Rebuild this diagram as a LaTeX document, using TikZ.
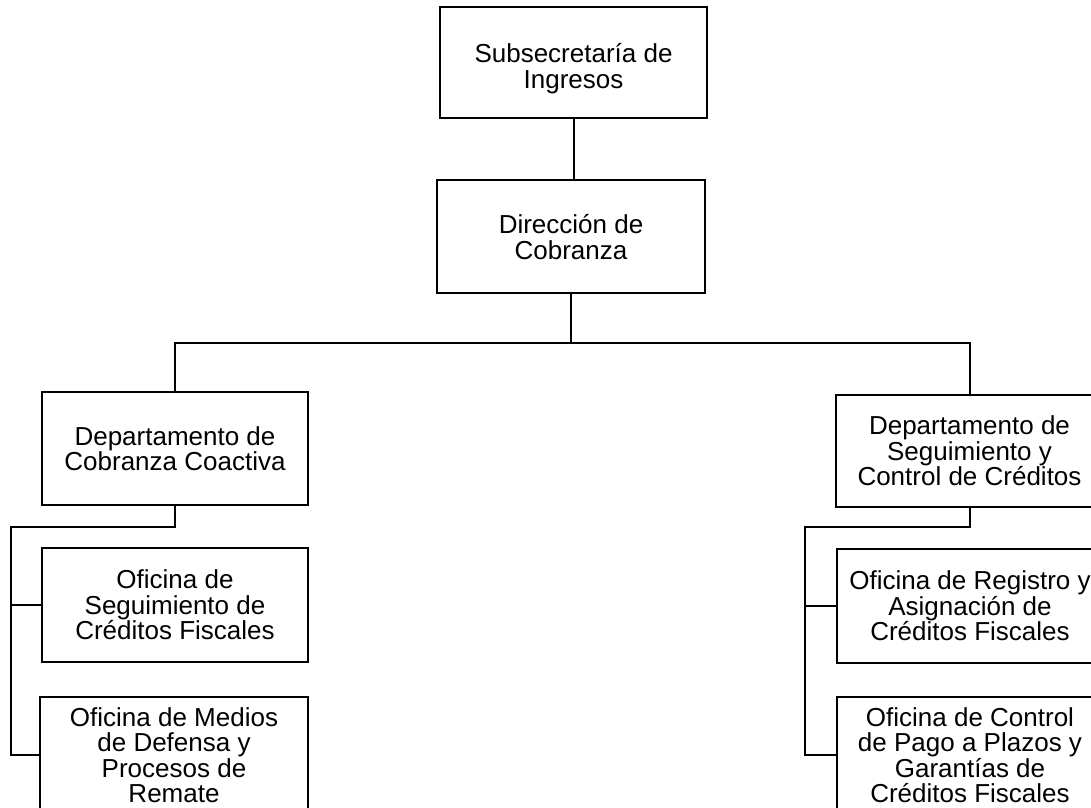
\documentclass[tikz,border=0pt]{standalone}
\usepackage{fontspec}
\setmainfont{Liberation Sans}
\newcommand{\lowtext}[2]{\raisebox{-#1}[\height][\depth]{\begin{tabular}{@{}c@{}}#2\end{tabular}}}
\begin{document}
\begin{tikzpicture}[x=1pt,y=-1pt,
  box/.style={draw,line width=2pt,rectangle,align=center,inner sep=0pt,
    font=\fontsize{26}{25.5}\selectfont},
  link/.style={line width=2pt}]
\useasboundingbox (0,0) rectangle (1091,807);
\clip (0,0) rectangle (1091,807);
\fill[white] (0,0) rectangle (1091,807);
\node[box,minimum width=267pt,minimum height=111pt] (top) at (573.5,62.5) {\lowtext{7pt}{Subsecretaría de\\Ingresos}};
\node[box,minimum width=268pt,minimum height=113pt] (dir) at (571,236.5) {\lowtext{4pt}{Dirección de\\Cobranza}};
\node[box,minimum width=266pt,minimum height=113pt] (deptL) at (175,448.5) {Departamento de\\Cobranza Coactiva};
\node[box,minimum width=267pt,minimum height=112pt] (deptR) at (969.5,451) {Departamento de\\Seguimiento y\\Control de Créditos};
\node[box,minimum width=266pt,minimum height=114pt] (offL1) at (175,605) {Oficina de\\Seguimiento de\\Créditos Fiscales};
\node[box,minimum width=268pt,minimum height=116pt] (offL2) at (174,755) {Oficina de Medios\\de Defensa y\\Procesos de\\Remate};
\node[box,minimum width=266pt,minimum height=114pt] (offR1) at (970,606) {Oficina de Registro y\\Asignación de\\Créditos Fiscales};
\node[box,minimum width=266pt,minimum height=116pt] (offR2) at (970,755) {Oficina de Control\\de Pago a Plazos y\\Garantías de\\Créditos Fiscales};
\coordinate (bus) at (571,343);
\coordinate (tl) at (11,527);
\coordinate (tr) at (805,527);
\draw[link] (top.south) -- (top.south |- dir.north);
\draw[link] (dir.south) -- (bus);
\draw[link] (deptL.north) |- (bus) -| (deptR.north);
\draw[link] (deptL.south) |- (tl) |- (offL2.west);
\draw[link] (tl |- offL1.west) -- (offL1.west);
\draw[link] (deptR.south) |- (tr) |- (offR2.west);
\draw[link] (tr |- offR1.west) -- (offR1.west);
\end{tikzpicture}
\end{document}
